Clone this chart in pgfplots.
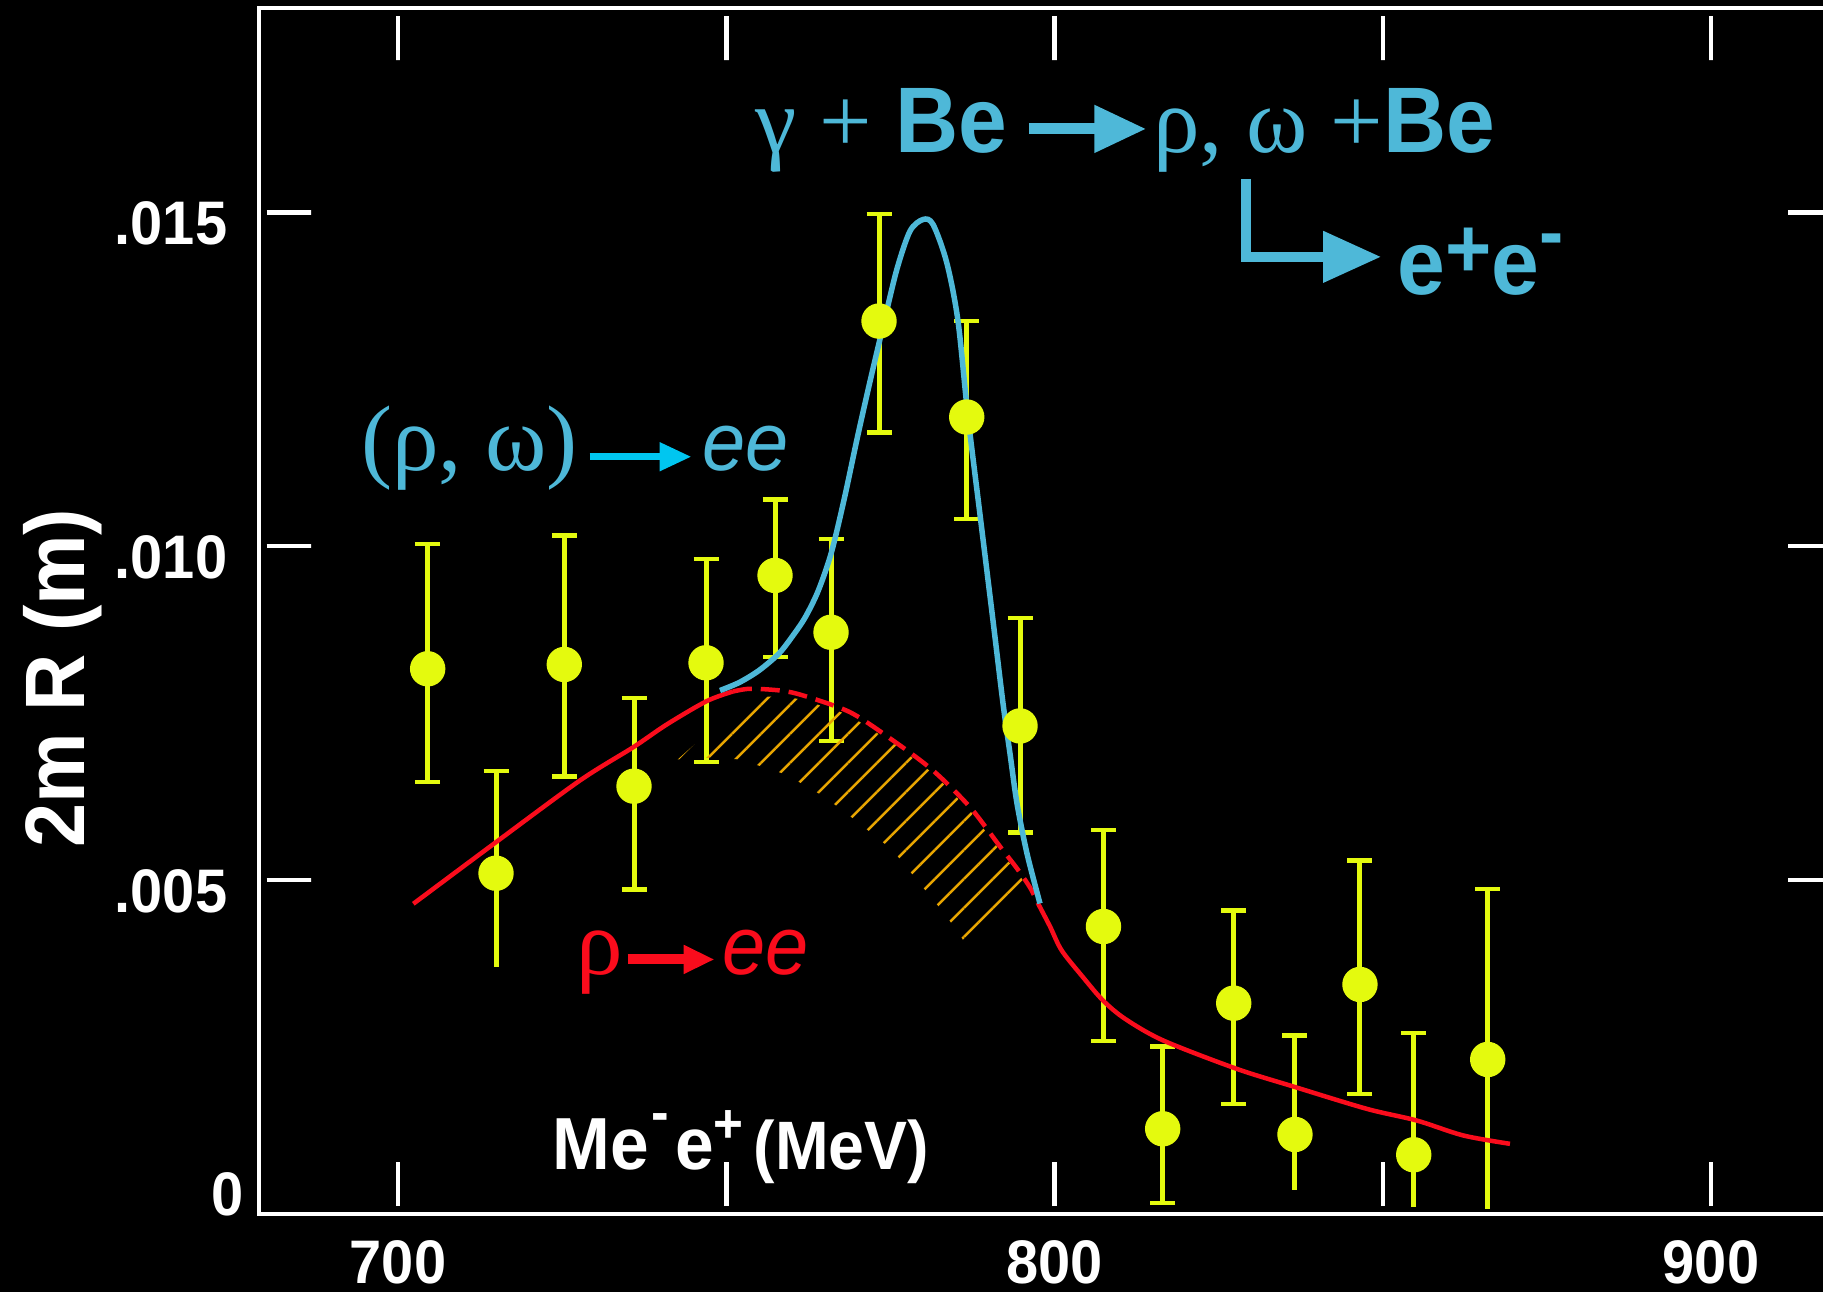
\documentclass[border=0pt]{standalone}
\usepackage{pgfplots}
\usepackage{pgfplotstable}
\pgfplotsset{compat=1.18}
\usetikzlibrary{arrows.meta,patterns.meta}
\usepackage{fontspec}
\setmainfont{Liberation Sans}[FakeStretch=0.94]
\newfontfamily\grk{Liberation Serif}

\definecolor{yel}{RGB}{228,250,14}
\definecolor{lblue}{RGB}{78,184,216}
\definecolor{cyanarr}{RGB}{0,198,240}
\definecolor{rred}{RGB}{250,12,28}
\definecolor{hatch}{RGB}{232,165,0}

\newcommand\fs[1]{\fontsize{#1pt}{#1pt}\selectfont}

% measured points with both caps
\pgfplotstableread{
x y ep em
704.52 0.008164 0.001872 0.001698
725.33 0.008229 0.001931 0.001677
735.95 0.006406 0.001318 0.001547
746.92 0.008254 0.001553 0.001488
757.43 0.009562 0.001138 0.001225
765.96 0.008711 0.001397 0.001625
773.27 0.013371 0.001604 0.001671
786.63 0.011934 0.001437 0.001525
794.75 0.007308 0.001617 0.001592
807.46 0.004305 0.001448 0.001717
816.48 0.001276 0.001232 0.001108
827.30 0.003157 0.001388 0.001507
846.53 0.003437 0.001857 0.001637
}\capped
% measured points whose lower bar has no cap
\pgfplotstableread{
x y ep em
714.93 0.005103 0.001528 0.001407
836.63 0.001191 0.001482 0.000839
854.72 0.000887 0.001820 0.000785
865.99 0.002314 0.002556 0.002236
}\opencap

\begin{document}
\begin{tikzpicture}
\useasboundingbox (-2.587cm,-0.78cm) rectangle (15.643cm,12.14cm);
\fill[black] (-2.587cm,-0.78cm) rectangle (15.643cm,12.14cm);
\begin{axis}[
  at={(0,0)}, anchor=south west,
  scale only axis, width=15.813cm, height=12.06cm,
  xmin=678.78, xmax=919.65, ymin=0, ymax=0.018059,
  axis line style={white, line width=0.04cm},
  xtick={700,750,800,850,900}, xticklabels={700,,800,,900},
  ytick={0.005,0.010,0.015}, yticklabels={.005,.010,.015},
  scaled y ticks=false,
  tick align=inside, major tick length=0.52cm,
  tick style={white, line width=0.045cm, dash pattern=on 0pt off 0.08cm on 0.44cm},
  tick label style={text=white, font=\rmfamily\bfseries\fs{17.5}},
  xticklabel style={inner sep=0pt, yshift=-0.26cm},
  yticklabel style={inner sep=0pt, xshift=-0.307cm, yshift=-0.11cm},
  extra y ticks={0}, extra y tick labels={0},
  extra y tick style={major tick length=0pt, yticklabel style={xshift=0.167cm, yshift=0.31cm}},
]
% error bars and points
\addplot[only marks, mark=*, mark size=0.17cm, mark options={fill=yel, draw=yel},
  error bars/.cd, y dir=both, y explicit,
  error bar style={draw=yel, solid, line width=0.05cm},
  error mark options={rotate=90, draw=yel, solid, mark size=0.125cm, line width=0.045cm}]
  table[x=x, y=y, y error plus=ep, y error minus=em] {\capped};
\addplot[only marks, mark=none,
  error bars/.cd, y dir=minus, y explicit, error mark=none,
  error bar style={draw=yel, solid, line width=0.05cm}]
  table[x=x, y=y, y error plus=ep, y error minus=em] {\opencap};
\addplot[only marks, mark=*, mark size=0.17cm, mark options={fill=yel, draw=yel},
  error bars/.cd, y dir=plus, y explicit,
  error bar style={draw=yel, solid, line width=0.05cm},
  error mark options={rotate=90, draw=yel, solid, mark size=0.125cm, line width=0.045cm}]
  table[x=x, y=y, y error plus=ep, y error minus=em] {\opencap};

% hatched omega contribution
\addplot[draw=none, pattern={Lines[angle=45, distance=0.205cm, line width=0.025cm]}, pattern color=hatch]
  coordinates {(742.6,0.006806) (753.01,0.007720) (758.19,0.007760) (761.69,0.007700)
  (768.55,0.007480) (775.40,0.007050) (781.49,0.006600) (787.13,0.006040) (791.70,0.005440)
  (795.81,0.004920) (786.67,0.004021) (783.47,0.004470) (779.36,0.004964) (775.40,0.005443)
  (769.92,0.005878) (764.89,0.006252) (759.10,0.006581) (752.09,0.006806) (747.98,0.006836)};

% rho -> ee
\addplot[rred, line width=0.045cm, smooth] coordinates {
  (702.33,0.004645) (714.93,0.005568) (727.72,0.006492) (735.84,0.006990)
  (740.93,0.007330) (747.02,0.007680) (751.03,0.007824)};
\addplot[rred, line width=0.045cm, smooth, dash pattern=on 0.19cm off 0.09cm] coordinates {
  (751.03,0.007824) (753.62,0.007865) (758.19,0.007839) (761.69,0.007765) (768.85,0.007514)
  (775.40,0.007091) (781.49,0.006641) (787.13,0.006092) (791.70,0.005503) (794.29,0.005174)
  (796.27,0.004889) (797.49,0.004650)};
\addplot[rred, line width=0.045cm, smooth] coordinates {
  (797.49,0.004650) (799.32,0.004305) (801.10,0.003946) (804.34,0.003546) (807.39,0.003197)
  (810.74,0.002923) (816.57,0.002598) (827.75,0.002174) (836.38,0.001909) (847.56,0.001575)
  (855.17,0.001400) (862.27,0.001176) (869.38,0.001051)};

% (rho, omega) -> ee
\addplot[lblue, line width=0.055cm, smooth] coordinates {
  (749.05,0.007839) (752.0,0.007960) (755.0,0.008140) (758.0,0.008390) (760.0,0.008640)
  (762.0,0.008930) (764.0,0.009330) (766.0,0.009900) (768.0,0.010720) (770.0,0.011640)
  (772.0,0.012510) (774.0,0.013340) (776.0,0.014150) (778.0,0.014720) (780.0,0.014893)
  (781.5,0.014818) (783.58,0.014249) (785.29,0.013380) (786.82,0.011943) (788.65,0.010475)
  (790.63,0.008888) (792.16,0.007645) (793.22,0.006896) (794.29,0.006147) (795.81,0.005399)
  (797.79,0.004650)};
\end{axis}

\begin{scope}[shift={(-2.587cm,12.14cm)}, x=0.01cm, y=-0.01cm]
% axis title on the left
\node[rotate=90, anchor=base, inner sep=0pt, text=white]
  at (85,678.5) {\rmfamily\bfseries\fs{24}2m R (m)};
% mass label inside the frame
\node[anchor=base west, inner sep=0pt, text=white] at (552,1170)
  {\rmfamily\bfseries\fs{21}Me\kern0.03cm\raisebox{0.375cm}{\fs{16}-}\kern0.06cm e\raisebox{0.27cm}{\fs{15.5}+}\kern0.1cm{\fs{19.5}(MeV)}};
% reaction
\node[anchor=base west, inner sep=0pt, text=lblue] at (755,153)
  {\grk\fs{26.5}γ + {\rmfamily\bfseries Be}};
\draw[lblue, line width=0.11cm, -{Triangle[length=0.52cm, width=0.45cm]}] (1030,129) -- (1147,129);
\node[anchor=base west, inner sep=0pt, text=lblue] at (1153,153)
  {\grk\fs{26.5}ρ, ω +{\rmfamily\bfseries Be}};
\draw[lblue, line width=0.105cm, -{Triangle[length=0.58cm, width=0.49cm]}] (1246.5,179) |- (1382,257);
\node[anchor=base west, inner sep=0pt, text=lblue] at (1398,295)
  {\rmfamily\bfseries\fs{26}e\raisebox{0.17cm}{\fs{24}+}e\raisebox{0.36cm}{\fs{22}-}};
% curve labels
\node[anchor=base west, inner sep=0pt, text=lblue] at (361,470.7) {\grk\fs{26.5}(ρ, ω)};
\draw[cyanarr, line width=0.075cm, -{Triangle[length=0.32cm, width=0.27cm]}] (590,457) -- (692,457);
\node[anchor=base west, inner sep=0pt, text=lblue] at (702,470.7) {\rmfamily\itshape\fs{23.5}ee};
\node[anchor=base west, inner sep=0pt, text=rred] at (576,975) {\grk\fs{26.5}ρ};
\draw[rred, line width=0.1cm, -{Triangle[length=0.31cm, width=0.27cm]}] (628,960) -- (715,960);
\node[anchor=base west, inner sep=0pt, text=rred] at (722,975) {\rmfamily\itshape\fs{23.5}ee};
\end{scope}
\end{tikzpicture}
\end{document}
